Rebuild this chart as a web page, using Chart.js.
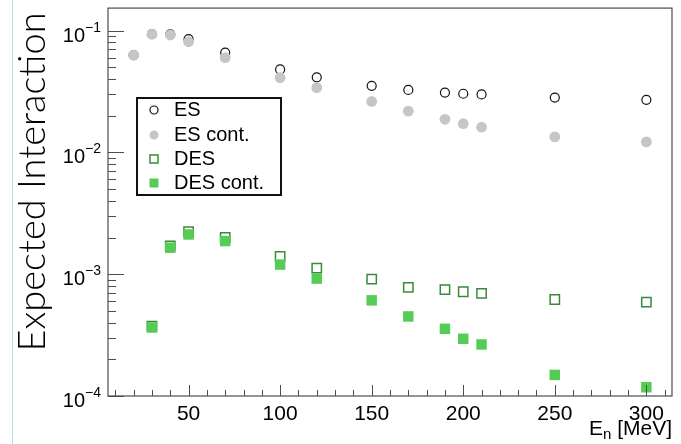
<!DOCTYPE html>
<html>
<head>
<meta charset="utf-8">
<script src="https://cdn.jsdelivr.net/npm/chart.js@4.4.1/dist/chart.umd.min.js"></script>
<style>
  html, body { margin: 0; padding: 0; background: #fff; }
  #wrap { position: relative; width: 681px; height: 444px; }
  #edge { position: absolute; left: 12px; top: 0; width: 1px; height: 444px; background: #b3dde8; }
</style>
</head>
<body>
<div id="wrap">
  <canvas id="interactionChart" width="681" height="444"></canvas>
  <div id="edge"></div>
</div>
<script>
// neutron energies (MeV)
const esEnergies = [20, 30, 40, 50, 70, 100, 120, 150, 170, 190, 200, 210, 250, 300];
const desEnergies = [30, 40, 50, 70, 100, 120, 150, 170, 190, 200, 210, 250, 300];

// expected interactions
const esValues = [0.063, 0.0935, 0.093, 0.085, 0.066, 0.048, 0.0413, 0.0352, 0.0326, 0.031, 0.0303, 0.0299, 0.0282, 0.027];
const esContValues = [0.063, 0.0935, 0.092, 0.081, 0.060, 0.041, 0.034, 0.0262, 0.0218, 0.0187, 0.0172, 0.0161, 0.0134, 0.0122];
const desValues = [0.000375, 0.00171, 0.00223, 0.0020, 0.0014, 0.00112, 0.00091, 0.00078, 0.000746, 0.000718, 0.000695, 0.00062, 0.00059];
const desContValues = [0.000365, 0.00165, 0.00212, 0.00187, 0.0012, 0.00092, 0.00061, 0.00045, 0.000356, 0.000295, 0.000265, 0.000149, 0.000118];

const xMajorTicks = [50, 100, 150, 200, 250, 300];
const yDecades = [-4, -3, -2, -1];

const toPoints = (xs, ys) => xs.map((x, i) => ({ x: x, y: ys[i] }));

const frameColor = '#4d4d4d';
const labelFont = '"Liberation Sans", Arial, sans-serif';

const rootAxes = {
  id: 'rootAxes',
  afterDraw(chart) {
    const ctx = chart.ctx;
    const area = chart.chartArea;
    const xs = chart.scales.x;
    const ys = chart.scales.y;

    ctx.save();
    // frame
    ctx.strokeStyle = frameColor;
    ctx.lineWidth = 1.2;
    ctx.strokeRect(area.left, area.top, area.right - area.left, area.bottom - area.top);

    // y ticks (inward) and labels
    ctx.lineWidth = 1;
    yDecades.forEach(e => {
      for (let k = 1; k <= 9; k++) {
        const v = k * Math.pow(10, e);
        if (v > ys.max || v < ys.min) continue;
        const py = Math.round(ys.getPixelForValue(v)) + 0.5;
        const len = k === 1 ? 16 : 8;
        ctx.beginPath();
        ctx.moveTo(area.left, py);
        ctx.lineTo(area.left + len, py);
        ctx.stroke();
      }
      const ty = ys.getPixelForValue(Math.pow(10, e));
      ctx.fillStyle = '#000';
      ctx.textAlign = 'right';
      ctx.textBaseline = 'alphabetic';
      ctx.font = '14px ' + labelFont;
      const expText = '\u2212' + Math.abs(e);
      const expW = ctx.measureText(expText).width;
      ctx.fillText(expText, 101, ty + 1);
      ctx.font = '20px ' + labelFont;
      ctx.fillText('10', 101 - expW, ty + 11);
    });

    // x ticks (inward) and labels
    for (let v = 10; v <= xs.max; v += 10) {
      const px = Math.round(xs.getPixelForValue(v)) + 0.5;
      const len = v % 50 === 0 ? 11 : 6;
      ctx.beginPath();
      ctx.moveTo(px, area.bottom);
      ctx.lineTo(px, area.bottom - len);
      ctx.stroke();
    }
    ctx.fillStyle = '#000';
    ctx.textAlign = 'center';
    ctx.font = '21px ' + labelFont;
    xMajorTicks.forEach(v => {
      ctx.fillText(String(v), xs.getPixelForValue(v), 420);
    });

    // x title: E_n [MeV]
    ctx.textAlign = 'left';
    ctx.font = '21px ' + labelFont;
    const wE = ctx.measureText('E').width;
    const wRest = ctx.measureText(' [MeV]').width;
    ctx.font = '15px ' + labelFont;
    const wN = ctx.measureText('n').width;
    const startX = 672 - wE - wN - wRest;
    ctx.font = '21px ' + labelFont;
    ctx.fillText('E', startX, 435);
    ctx.fillText(' [MeV]', startX + wE + wN, 435);
    ctx.font = '15px ' + labelFont;
    ctx.fillText('n', startX + wE, 439);

    // y title, fitted to its length in the picture
    const yTitle = 'Expected Interaction';
    ctx.font = '300 37px Lato, "Open Sans", sans-serif';
    const w = ctx.measureText(yTitle).width;
    const size = 37 * 339 / w;
    ctx.font = '300 ' + size.toFixed(1) + 'px Lato, "Open Sans", sans-serif';
    ctx.translate(45, 182);
    ctx.rotate(-Math.PI / 2);
    ctx.textAlign = 'center';
    ctx.fillText(yTitle, 0, 0);
    ctx.restore();

    // legend box
    ctx.save();
    ctx.strokeStyle = '#111';
    ctx.lineWidth = 2;
    ctx.fillStyle = '#fff';
    ctx.fillRect(137, 98, 144, 97);
    ctx.strokeRect(137, 98, 144, 97);
    const rows = [110, 135, 159, 183];
    chart.data.datasets.forEach((ds, i) => {
      const cy = rows[i];
      const cx = 154;
      ctx.beginPath();
      if (ds.pointStyle === 'circle') {
        ctx.arc(cx, cy, ds.legendSize, 0, Math.PI * 2);
      } else {
        const s = ds.legendSize;
        ctx.rect(cx - s, cy - s, 2 * s, 2 * s);
      }
      if (ds.backgroundColor !== 'transparent') {
        ctx.fillStyle = ds.backgroundColor;
        ctx.fill();
      }
      if (ds.borderWidth > 0) {
        ctx.strokeStyle = ds.borderColor;
        ctx.lineWidth = ds.borderWidth;
        ctx.stroke();
      }
      ctx.fillStyle = '#000';
      ctx.font = '20px ' + labelFont;
      ctx.textAlign = 'left';
      ctx.fillText(ds.label, 174, cy + 5.5);
    });
    ctx.restore();
  }
};

const chartEl = document.getElementById('interactionChart');

new Chart(chartEl, {
  type: 'scatter',
  data: {
    datasets: [
      {
        label: 'ES',
        data: toPoints(esEnergies, esValues),
        pointStyle: 'circle',
        pointRadius: 4.5,
        borderWidth: 1.2,
        borderColor: '#111',
        backgroundColor: 'transparent',
        legendSize: 4,
        order: 4
      },
      {
        label: 'ES cont.',
        data: toPoints(esEnergies, esContValues),
        pointStyle: 'circle',
        pointRadius: 5.4,
        borderWidth: 0,
        borderColor: '#c6c6c6',
        backgroundColor: '#c6c6c6',
        legendSize: 4.5,
        order: 3
      },
      {
        label: 'DES',
        data: toPoints(desEnergies, desValues),
        pointStyle: 'rect',
        pointRadius: 6.6,
        borderWidth: 1.5,
        borderColor: '#3b8a3b',
        backgroundColor: 'transparent',
        legendSize: 4,
        order: 2
      },
      {
        label: 'DES cont.',
        data: toPoints(desEnergies, desContValues),
        pointStyle: 'rect',
        pointRadius: 7.4,
        borderWidth: 0,
        borderColor: '#55cc55',
        backgroundColor: '#55cc55',
        legendSize: 4.5,
        order: 1
      }
    ]
  },
  options: {
    responsive: false,
    animation: false,
    devicePixelRatio: 1,
    events: [],
    layout: {
      padding: { left: 108, top: 6, right: 9, bottom: 48 }
    },
    scales: {
      x: { type: 'linear', min: 6, max: 314, display: false },
      y: { type: 'logarithmic', min: 1e-4, max: 0.153, display: false }
    },
    plugins: {
      legend: { display: false },
      tooltip: { enabled: false }
    }
  },
  plugins: [rootAxes]
});
</script>
</body>
</html>
